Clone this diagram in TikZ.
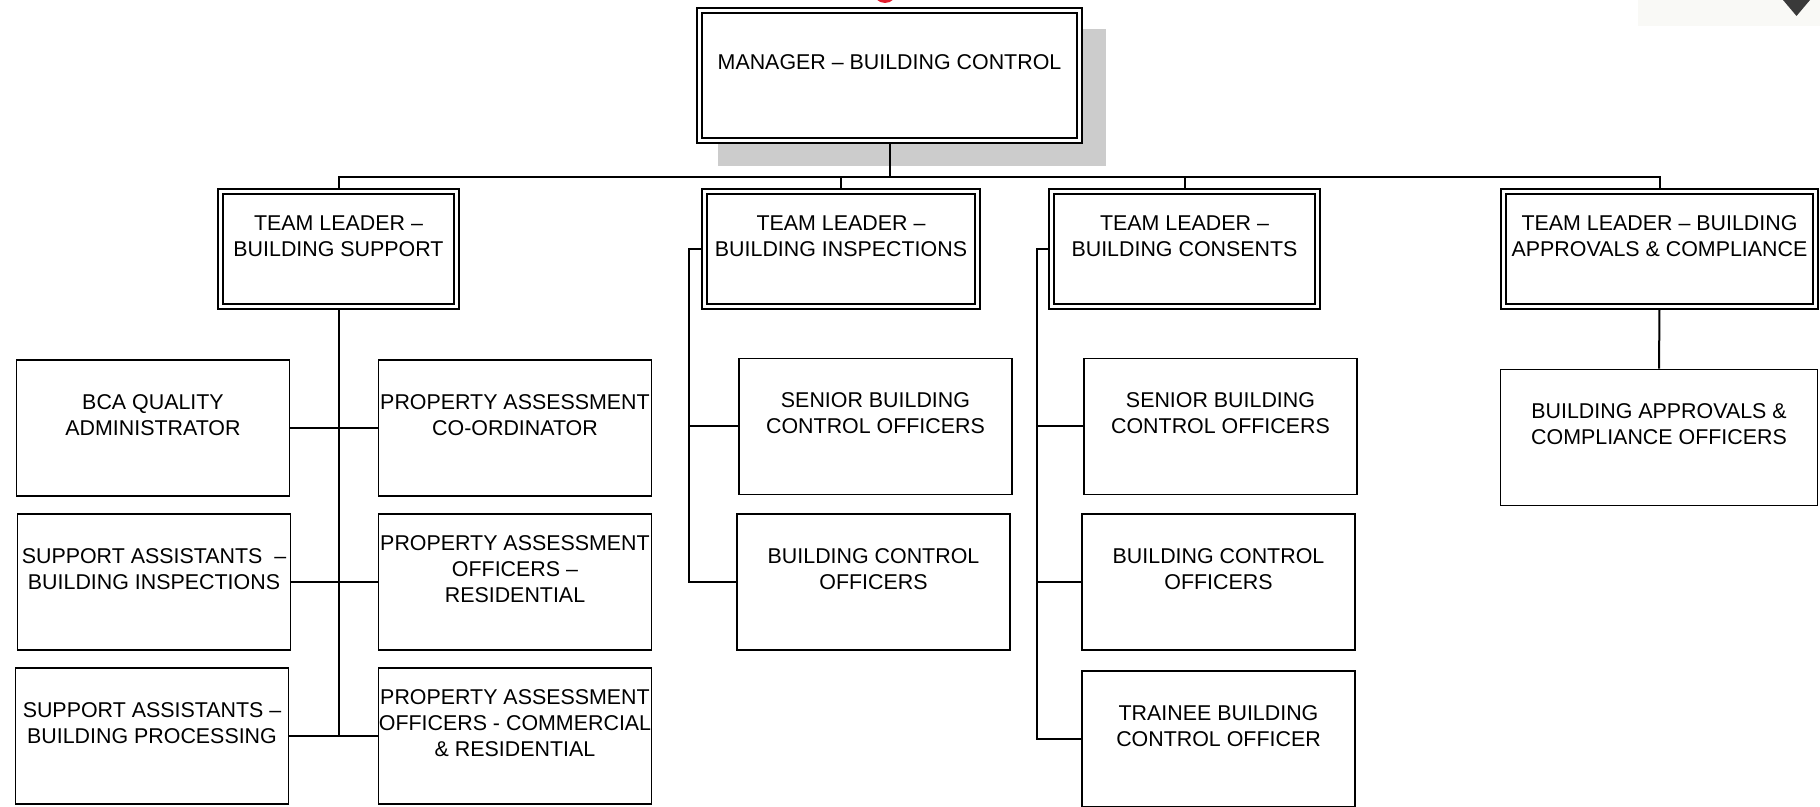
\documentclass[tikz,border=0pt]{standalone}
\usepackage{fontspec}
\setmainfont{Liberation Sans}
\usetikzlibrary{backgrounds}

\definecolor{shadowgray}{HTML}{CCCCCC}
\definecolor{logored}{HTML}{E31E2D}
\definecolor{markgray}{HTML}{3A3A3A}
\definecolor{patchgray}{HTML}{F9F9F6}

\tikzset{
	post/.style={draw, line width=0.8pt, fill=white, minimum width=136.5pt, minimum height=68pt},
	lead/.style={draw, double, line width=0.9pt, double distance=1.6pt, fill=white, minimum height=57.5pt},
	caption/.style={align=center, font=\fontsize{10.7}{13}\selectfont, yshift=6.5pt},
	link/.style={line width=1pt},
}

\begin{document}
\begin{tikzpicture}[x=0.5pt, y=-0.5pt]
	\useasboundingbox (0,0) rectangle (1820,807);

	\fill[patchgray] (1638,0) rectangle (1820,26);
	\fill[markgray] (1783,0) -- (1810,0) -- (1796.5,16) -- cycle;
	\fill[logored] (885,-9) circle (12);

	\node[lead, minimum width=190pt, minimum height=65pt, label={[caption]center:{MANAGER – BUILDING CONTROL}}] (mgr) at (889.5,75.5) {};

	\node[lead, minimum width=118pt, label={[caption]center:{TEAM LEADER –\\BUILDING SUPPORT}}] (tls) at (338.5,249) {};
	\node[lead, minimum width=136.5pt, label={[caption]center:{TEAM LEADER –\\BUILDING INSPECTIONS}}] (tli) at (841,249) {};
	\node[lead, minimum width=133pt, label={[caption]center:{TEAM LEADER –\\BUILDING CONSENTS}}] (tlc) at (1184.5,249) {};
	\node[lead, minimum width=156pt, label={[caption]center:{TEAM LEADER – BUILDING\\APPROVALS \& COMPLIANCE}}] (tla) at (1659.5,249) {};

	\node[post, label={[caption]center:{BCA QUALITY\\ADMINISTRATOR}}] (bca) at (153,428) {};
	\node[post, label={[caption]center:{SUPPORT ASSISTANTS \ –\\BUILDING INSPECTIONS}}] (sai) at (154,582) {};
	\node[post, label={[caption]center:{SUPPORT ASSISTANTS –\\BUILDING PROCESSING}}] (sap) at (152,736) {};
	\node[post, label={[caption]center:{PROPERTY ASSESSMENT\\CO-ORDINATOR}}] (pac) at (515,428) {};
	\node[post, label={[caption]center:{PROPERTY ASSESSMENT\\OFFICERS –\\RESIDENTIAL}}] (par) at (515,582) {};
	\node[post, label={[caption]center:{PROPERTY ASSESSMENT\\OFFICERS - COMMERCIAL\\\& RESIDENTIAL}}] (pcr) at (515,736) {};

	\node[post, label={[caption]center:{SENIOR BUILDING\\CONTROL OFFICERS}}] (sbi) at (875.5,426.5) {};
	\node[post, label={[caption]center:{BUILDING CONTROL\\OFFICERS}}] (bci) at (873.5,582) {};

	\node[post, label={[caption]center:{SENIOR BUILDING\\CONTROL OFFICERS}}] (sbc) at (1220.5,426.5) {};
	\node[post, label={[caption]center:{BUILDING CONTROL\\OFFICERS}}] (bcc) at (1218.5,582) {};
	\node[post, label={[caption]center:{TRAINEE BUILDING\\CONTROL OFFICER}}] (tbc) at (1218.5,739) {};

	\node[post, minimum width=158.5pt, label={[caption]center:{BUILDING APPROVALS \&\\COMPLIANCE OFFICERS}}] (bao) at (1659,437.5) {};

	\coordinate (bus) at (0,177);

	\begin{scope}[on background layer]
		\fill[shadowgray] (718,29) rectangle (1106,166);
		\begin{scope}[link]
			\draw (mgr.south) -- (mgr.south |- bus);
			\draw (tls.north) -- (tls.north |- bus) -- (tla.north |- bus) -- (tla.north);
			\draw (tli.north) -- (tli.north |- bus);
			\draw (tlc.north) -- (tlc.north |- bus);

			\draw (tls.south) -- (tls.south |- sap.east);
			\draw (bca) -- (pac);
			\draw (sai) -- (par);
			\draw (sap) -- (pcr);

			\draw (tli.west) -- ++(-15,0) |- (bci.west);
			\draw (tli.west) ++(-15,0) |- (sbi.west);

			\draw (tlc.west) -- ++(-14,0) |- (tbc.west);
			\draw (tlc.west) ++(-14,0) |- (sbc.west);
			\draw (tlc.west) ++(-14,0) |- (bcc.west);

			\draw (tla.south) -- (bao.north);
		\end{scope}
	\end{scope}
\end{tikzpicture}
\end{document}
